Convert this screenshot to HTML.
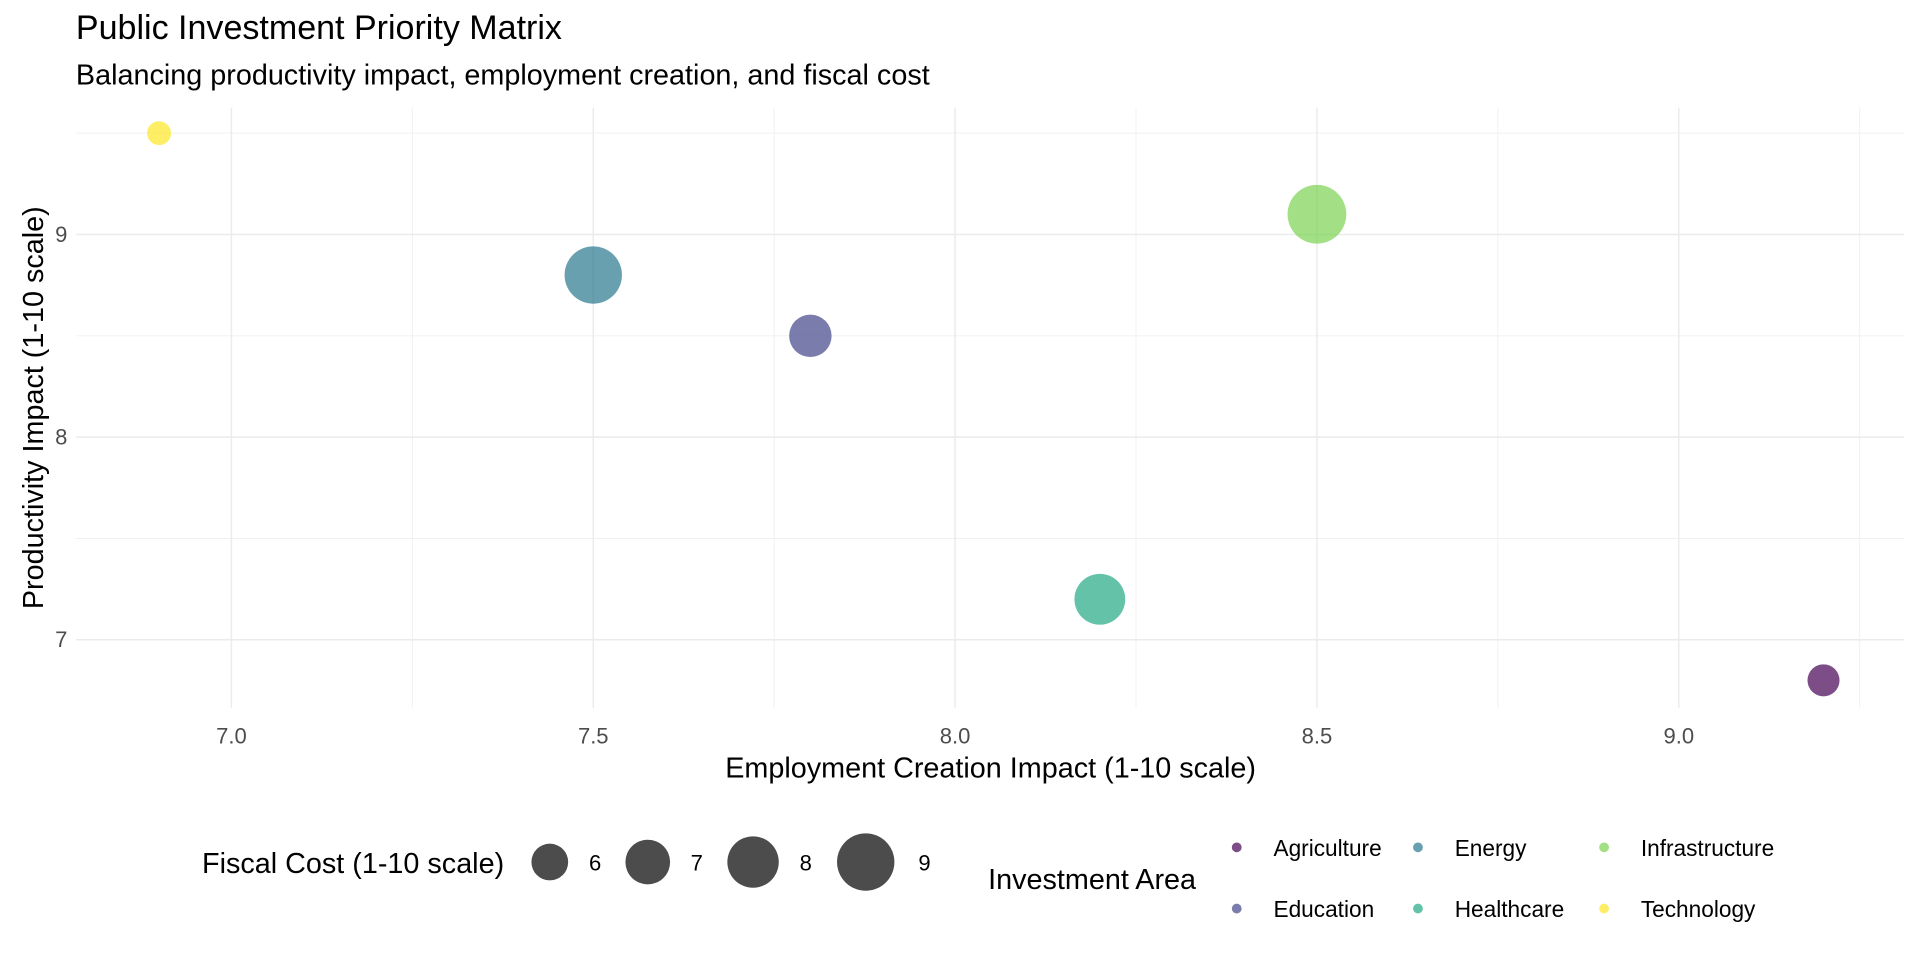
<!DOCTYPE html>
<html><head><meta charset="utf-8"><style>
html,body{margin:0;padding:0;background:#fff;}
svg{display:block;font-family:"Liberation Sans",Arial,sans-serif;}
</style></head><body>
<svg id="chart" width="1920" height="960" viewBox="0 0 1568 784" xmlns="http://www.w3.org/2000/svg">
<text x="62" y="32" font-size="27.8" fill="#000">Public Investment Priority Matrix</text>
<text x="62" y="69" font-size="23.5" fill="#000">Balancing productivity impact, employment creation, and fiscal cost</text>
<g id="grid"></g>
<g id="points"></g>
<g id="axes"></g>
<text x="809" y="635" font-size="23.5" text-anchor="middle" fill="#000">Employment Creation Impact (1-10 scale)</text>
<text transform="translate(35,333) rotate(-90)" font-size="23.5" text-anchor="middle" fill="#000">Productivity Impact (1-10 scale)</text>
<text x="165" y="713" font-size="23.5" fill="#000">Fiscal Cost (1-10 scale)</text>
<g id="sizeLegend"></g>
<text x="807" y="726" font-size="23.5" fill="#000">Investment Area</text>
<g id="colorLegend"></g>
</svg>
<script>
const categories = ["Technology","Energy","Education","Infrastructure","Healthcare","Agriculture"];
const employment = [6.9, 7.5, 7.8, 8.5, 8.2, 9.2];
const productivity = [9.5, 8.8, 8.5, 9.1, 7.2, 6.8];
const fiscalCost = [4.8, 9.0, 6.7, 9.25, 7.9, 5.5];
const xTicks = [7.0, 7.5, 8.0, 8.5, 9.0];
const yTicks = [7, 8, 9];
const sizeLegendValues = [6, 7, 8, 9];
const legendOrder = ["Agriculture","Energy","Infrastructure","Education","Healthcare","Technology"];
const colorMap = {Agriculture:"#440154",Education:"#414487",Energy:"#2A788E",Healthcare:"#22A884",Infrastructure:"#7AD151",Technology:"#FDE725"};

const NS="http://www.w3.org/2000/svg";
const PL=62, PR=1555, PT=88, PB=578;
function xs(v){return 189+(v-7.0)*591;}
function ys(v){return 357-(v-8)*165.5;}
function rs(v){return Math.sqrt(Math.max(20,225+(v-6)*108));}
function mk(tag,attrs,parent){const e=document.createElementNS(NS,tag);for(const k in attrs)e.setAttribute(k,attrs[k]);parent.appendChild(e);return e;}

const grid=document.getElementById('grid');
for(let i=1;i<=xTicks.length;i++){
  const v=6.75+i*0.5;
  const l=mk('line',{x1:xs(v),x2:xs(v),y1:PT,y2:PB,stroke:"#f0f0f0","stroke-width":0.8},grid);
  
  
}
for(const v of [7.5,8.5,9.5]){
  const l=mk('line',{x1:PL,x2:PR,y1:ys(v),y2:ys(v),stroke:"#f0f0f0","stroke-width":0.8},grid);
  
  
}
const axes=document.getElementById('axes');
xTicks.forEach(v=>{
  const l=mk('line',{x1:xs(v),x2:xs(v),y1:PT,y2:PB,stroke:"#ebebeb","stroke-width":1.2},grid);
  
  
  const t=mk('text',{x:xs(v),y:607,"font-size":18,"text-anchor":"middle",fill:"#4d4d4d"},axes);
  t.textContent=v.toFixed(1);
  
  
});
yTicks.forEach(v=>{
  const l=mk('line',{x1:PL,x2:PR,y1:ys(v),y2:ys(v),stroke:"#ebebeb","stroke-width":1.2},grid);
  
  
  const t=mk('text',{x:55,y:ys(v)+6,"font-size":18,"text-anchor":"end",fill:"#4d4d4d"},axes);
  t.textContent=String(v);
  
  
});
const pts=document.getElementById('points');
categories.forEach((c,i)=>{
  const p=mk('circle',{cx:xs(employment[i]),cy:ys(productivity[i]),r:rs(fiscalCost[i]),fill:colorMap[c],"fill-opacity":0.7},pts);
  
  
});
const sl=document.getElementById('sizeLegend');
const slx=[449,529,615,707], sllx=[486,569,658,755];
sizeLegendValues.forEach((v,i)=>{
  const c=mk('circle',{cx:slx[i],cy:704,r:rs(v),fill:"#000","fill-opacity":0.7},sl);
  
  
  const t=mk('text',{x:sllx[i],y:711,"font-size":18,"text-anchor":"middle",fill:"#000"},sl);
  t.textContent=String(v);
  
  
});
const cl=document.getElementById('colorLegend');
const colX=[1010,1158,1310], rowY=[692,742];
legendOrder.forEach((c,i)=>{
  const x=colX[i%3], y=rowY[Math.floor(i/3)];
  const d=mk('circle',{cx:x,cy:y,r:4,fill:colorMap[c],"fill-opacity":0.7},cl);
  
  
  const t=mk('text',{x:x+30,y:y+7,"font-size":18.5,fill:"#000"},cl);
  t.textContent=c;
  
  
});
</script>
</body></html>
